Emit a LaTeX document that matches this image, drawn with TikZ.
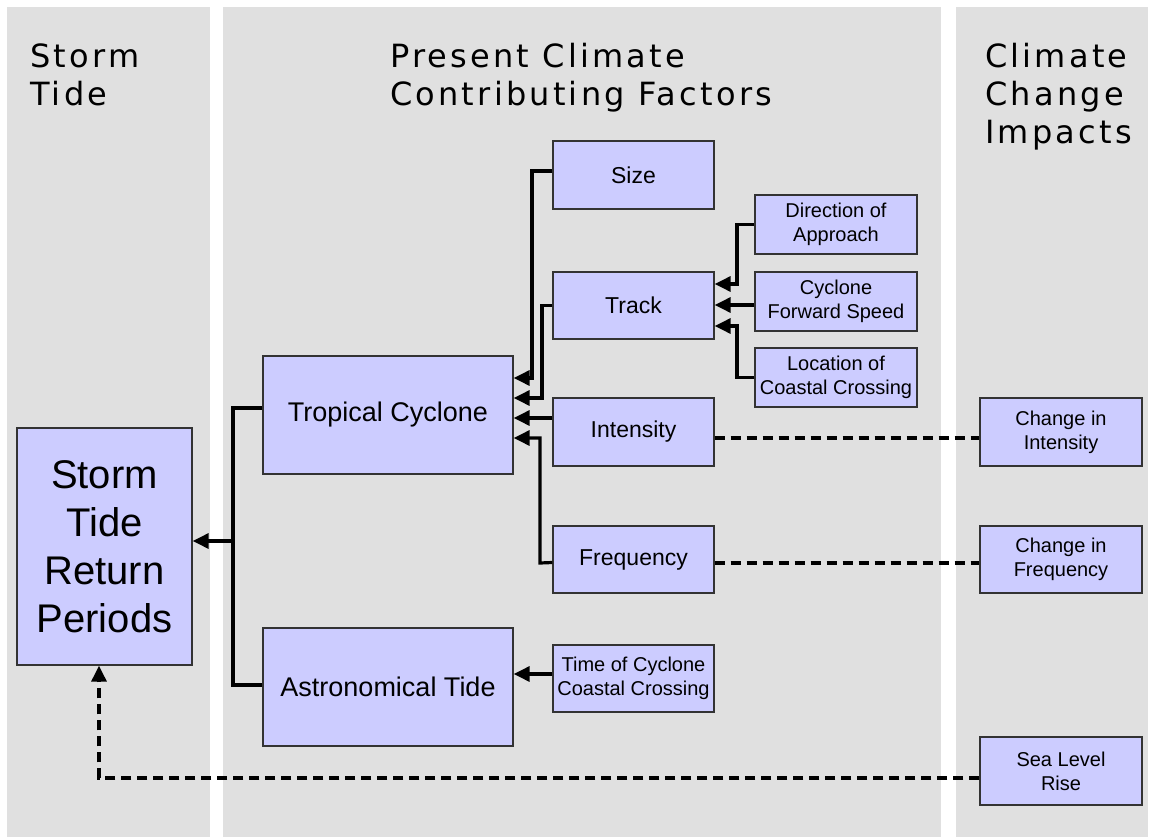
\documentclass[tikz,border=0pt]{standalone}
\usepackage{fontspec}
\setmainfont{Liberation Sans}
\newfontfamily\titlefont[LetterSpace=10]{DejaVu Sans}
\usetikzlibrary{arrows.meta}
\definecolor{panel}{RGB}{224,224,224}
\definecolor{boxfill}{RGB}{204,204,255}
\definecolor{boxline}{RGB}{51,51,51}
\begin{document}
\begin{tikzpicture}[x=1pt,y=-1pt,
  box/.style={draw=boxline,line width=1.3pt,fill=boxfill,inner sep=0pt,align=center,text=black},
  midbox/.style={box,minimum width=161pt,minimum height=67pt,font=\fontsize{23}{27}\selectfont},
  bigbox/.style={box,minimum width=250pt,minimum height=118pt,font=\fontsize{27}{31}\selectfont},
  smallbox/.style={box,minimum width=162pt,minimum height=59pt,font=\fontsize{20}{24}\selectfont},
  impbox/.style={box,minimum width=162pt,minimum height=68pt,font=\fontsize{20}{24}\selectfont},
  title/.style={anchor=base west,inner sep=0pt,align=left,font=\titlefont\fontsize{32}{38}\selectfont},
  conn/.style={line width=3.2pt,black},
  arr/.style={conn,-{Triangle[length=16pt,width=15pt]}},
  dashconn/.style={line width=3.2pt,black,dash pattern=on 10pt off 6pt}
]
\useasboundingbox (0,0) rectangle (1154,837);
\fill[white] (0,0) rectangle (1154,837);
\fill[panel] (7,7) rectangle (210,837);
\fill[panel] (223,7) rectangle (941,837);
\fill[panel] (956,7) rectangle (1148,837);

\node[title] (t1) at (30,106) {Storm\\Tide};
\node[title] (t2) at (390,106) {Present Climate\\Contributing Factors};
\node[title] (t3) at (985,144) {Climate\\Change\\Impacts};

\node[box,minimum width=175pt,minimum height=237pt,font=\fontsize{40}{48}\selectfont] (strp) at (104.5,546.5) {Storm\\Tide\\Return\\Periods};
\node[bigbox] (tc) at (388,415) {Tropical Cyclone};
\node[bigbox] (at) at (388,687) {Astronomical Tide};
\node[midbox,minimum height=68pt] (size) at (633.5,175) {Size};
\node[midbox] (track) at (633.5,305.5) {Track};
\node[midbox,minimum height=68pt] (intensity) at (633.5,432) {Intensity};
\node[midbox] (frequency) at (633.5,559.5) {Frequency};
\node[midbox,font=\fontsize{20}{24}\selectfont] (timecc) at (633.5,678.5) {Time of Cyclone\\Coastal Crossing};
\node[smallbox] (doa) at (836,224.5) {Direction of\\Approach};
\node[smallbox] (cfs) at (836,301.5) {Cyclone\\Forward Speed};
\node[smallbox] (locc) at (836,377.5) {Location of\\Coastal Crossing};
\node[impbox] (ci) at (1061,432) {Change in\\Intensity};
\node[impbox,minimum height=67pt] (cf) at (1061,559.5) {Change in\\Frequency};
\node[impbox] (slr) at (1061,771) {Sea Level\\Rise};

% connectors into Tropical Cyclone
\draw[arr] ([yshift=4pt]size.west) -- (532,171) -- (532,378) -- (tc.east |- 0,378);
\draw[arr] (track.west) -- (542,305.5) -- (542,398) -- (tc.east |- 0,398);
\draw[arr] (intensity.west |- 0,418) -- (tc.east |- 0,418);
\draw[arr] ([yshift=-3pt]frequency.west) -- (540,563) -- (540,438) -- (tc.east |- 0,438);
% connectors into Track
\draw[arr] (doa.west) -- (737,224.5) -- (737,284) -- (track.east |- 0,284);
\draw[arr] (cfs.west |- 0,305) -- (track.east |- 0,305);
\draw[arr] (locc.west) -- (737,377.5) -- (737,326) -- (track.east |- 0,326);
% into Astronomical Tide
\draw[arr] (timecc.west |- 0,674) -- (at.east |- 0,674);
% into Storm Tide Return Periods
\draw[conn] (tc.west |- 0,408) -- (233,408) -- (233,685) -- (at.west |- 0,685);
\coordinate (j) at (233,541);
\draw[arr] (j) -- (strp.east |- j);
% climate change impacts
\draw[dashconn] (intensity.east |- 0,438) -- (ci.west |- 0,438);
\draw[dashconn] (frequency.east |- 0,563) -- (cf.west |- 0,563);
\draw[dashconn,-{Triangle[length=16pt,width=15pt]}] (slr.west |- 0,778) -- (99,778) -- (strp.south -| 99,0);
\end{tikzpicture}
\end{document}
